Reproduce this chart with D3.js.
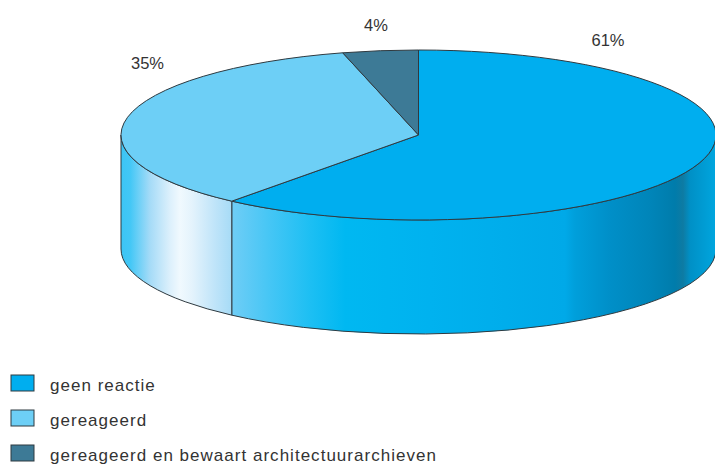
<!DOCTYPE html>
<html><head><meta charset="utf-8">
<script src="https://cdn.jsdelivr.net/npm/d3@7"></script>
<style>html,body{margin:0;padding:0;background:#fff;overflow:hidden}svg{display:block}</style>
</head><body><div id="c"></div>
<script>
const categories = ["geen reactie","gereageerd","gereageerd en bewaart architectuurarchieven"];
const values = [60.8,35.1,4.1];
const labels = ["61%","35%","4%"];
const colors = ["#00aeef","#6dcff6","#3d7a96"];

const W=715,H=464,cx=418.5,cy=135,rx=297.5,ry=85,depth=114;
const stroke="#2f3a40";
const svg=d3.select("#c").append("svg").attr("width",W).attr("height",H);
const defs=svg.append("defs");
function grad(id,x0,x1,stops){
  const s=d3.scaleLinear().domain([x0,x1]).range([0,1]);
  const g=defs.append("linearGradient").attr("id",id).attr("gradientUnits","userSpaceOnUse")
    .attr("x1",x0).attr("x2",x1).attr("y1",0).attr("y2",0);
  stops.forEach(([x,c])=>g.append("stop").attr("offset",s(x)).attr("stop-color",c));
}
grad("wallA",232,716,[[232,"#6fcdf6"],[270,"#45c6f5"],[310,"#1dbff3"],[345,"#00b8f1"],[430,"#00b2ef"],[565,"#00a9e8"],[575,"#009fdb"],[610,"#008fc8"],[650,"#0085b9"],[675,"#007cab"],[683,"#0e7ba3"],[690,"#0090c6"],[716,"#00a6df"]]);
grad("wallB",121,232,[[121,"#3cc5f5"],[130,"#42c7f6"],[150,"#a5dbf7"],[170,"#dcf0fc"],[180,"#f0f9fe"],[192,"#e4f3fc"],[215,"#bfe4f9"],[232,"#a6dbf6"]]);

const pie=d3.pie().sort(null).value(d=>d);
const arcs=pie(values);
const px=a=>cx+rx*Math.sin(a), py=a=>cy-ry*Math.cos(a);

function wall(a0,a1){
  const lo=Math.max(a0,Math.PI/2), hi=Math.min(a1,Math.PI*1.5);
  if(hi<=lo) return null;
  return `M${px(lo)},${py(lo)}A${rx},${ry} 0 0 1 ${px(hi)},${py(hi)}L${px(hi)},${py(hi)+depth}A${rx},${ry} 0 0 0 ${px(lo)},${py(lo)+depth}Z`;
}
const walls=["url(#wallA)","url(#wallB)",null];
svg.append("g").selectAll("path").data(arcs).join("path")
  .attr("d",d=>wall(d.startAngle,d.endAngle))
  .attr("fill",(d,i)=>walls[i]||"none")
  .attr("stroke",stroke).attr("stroke-width",1);

const arc=d3.arc().innerRadius(0).outerRadius(rx);
svg.append("g").attr("transform",`translate(${cx},${cy}) scale(1,${ry/rx})`)
  .selectAll("path").data(arcs).join("path")
  .attr("d",arc)
  .attr("fill",(d,i)=>colors[i])
  .attr("stroke",stroke).attr("stroke-width",1)
  .attr("stroke-linejoin","round")
  .attr("vector-effect","non-scaling-stroke");

const labelPos=[[608,46],[147.5,69],[376,30.5]];
svg.append("g").selectAll("text").data(labels).join("text")
  .attr("x",(d,i)=>labelPos[i][0]).attr("y",(d,i)=>labelPos[i][1])
  .attr("text-anchor","middle")
  .attr("font-family","'Liberation Sans',Arial,sans-serif").attr("font-size",16.5).attr("fill","#333")
  .text(d=>d);

const legY=d3.scaleOrdinal().domain(categories).range([391,426,461]);
const leg=svg.append("g").selectAll("g").data(categories).join("g");
leg.append("rect").attr("x",11).attr("y",d=>legY(d)-16).attr("width",23).attr("height",16)
  .attr("fill",(d,i)=>colors[i]).attr("stroke",stroke).attr("stroke-width",1);
leg.append("text").attr("x",50).attr("y",d=>legY(d))
  .attr("font-family","'Liberation Sans',Arial,sans-serif").attr("font-size",17)
  .attr("letter-spacing",1.02).attr("fill","#333").text(d=>d);
</script></body></html>
